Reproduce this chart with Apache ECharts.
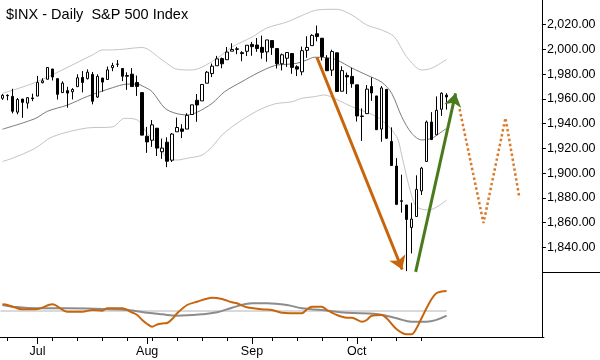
<!DOCTYPE html>
<html><head><meta charset="utf-8">
<script src="https://cdn.jsdelivr.net/npm/echarts@6/dist/echarts.min.js"></script>
<style>html,body{margin:0;padding:0;background:#fff;}#c{width:600px;height:360px;}</style>
</head><body><div id="c"></div>
<script>
// ---- categories (trading days) ----
const junDays=[20,23,24,25,26,27,30];
const julDays=[1,2,3,7,8,9,10,11,14,15,16,17,18,21,22,23,24,25,28,29,30,31];
const augDays=[1,4,5,6,7,8,11,12,13,14,15,18,19,20,21,22,25,26,27,28,29];
const sepDays=[2,3,4,5,8,9,10,11,12,15,16,17,18,19,22,23,24,25,26,29,30];
const octDays=[1,2,3,6,7,8,9,10,13,14,15,16,17,20,21,22,23,24,27];
const futureDays=['Oct 28','Oct 29','Oct 30','Oct 31','Nov 3','Nov 4','Nov 5','Nov 6','Nov 7','Nov 10','Nov 11','Nov 12','Nov 13','Nov 14','Nov 17','Nov 18','Nov 19','Nov 20','Nov 21'];

// ---- OHLC ----
const opens=[1960.5,1962.9,1962.0,1949.3,1959.9,1956.6,1960.8,
1962.3,1973.1,1975.9,1984.2,1976.4,1965.1,1966.7,1965.8,1969.9,1977.4,1976.4,1979.8,1961.5,1976.9,1975.7,1985.3,1988.1,1984.6,1978.3,1980.0,1973.2,1965.1,
1929.8,1926.6,1936.3,1917.3,1925.0,1910.4,1933.4,1935.7,1935.6,1947.4,1958.9,1958.4,1972.7,1980.5,1986.8,1992.6,1991.7,1998.6,2000.5,1997.4,1998.5,
2004.1,2003.6,2001.7,1998.0,2007.2,2000.7,1988.4,1992.9,1996.7,1986.0,1981.9,1999.3,2003.1,2012.7,2009.1,1992.8,1983.3,1997.3,1966.2,1979.0,1978.2,
1971.4,1945.8,1948.1,1970.0,1962.4,1935.6,1967.7,1925.6,1905.7,1877.1,1874.2,1856.0,1864.9,1885.6,1909.4,1941.3,1931.0,1951.6,1963.0];
const highs=[1963.9,1963.7,1968.2,1960.8,1959.9,1961.5,1964.2,
1978.6,1976.7,1985.6,1984.2,1976.4,1974.2,1969.8,1968.7,1979.9,1982.5,1983.9,1981.8,1979.9,1976.9,1986.2,1989.2,1991.4,1984.6,1981.5,1984.9,1978.9,1965.1,
1937.4,1942.9,1936.3,1927.9,1928.9,1932.4,1944.9,1939.5,1948.4,1955.2,1964.0,1972.0,1982.6,1988.6,1994.8,1993.5,2002.0,2005.0,2002.1,1998.6,2003.4,
2006.1,2009.3,2011.2,2007.7,2007.2,2001.0,1996.7,1997.7,1996.7,1987.2,2002.3,2010.7,2012.3,2019.3,2009.1,1995.4,1999.8,1997.3,1986.4,1981.3,1985.2,
1971.4,1952.3,1971.2,1977.4,1962.4,1970.4,1967.7,1937.0,1912.1,1898.7,1874.2,1876.0,1898.2,1905.0,1942.5,1949.3,1962.0,1965.3,1964.6];
const lows=[1959.2,1958.9,1948.3,1947.5,1944.7,1952.2,1958.2,
1962.3,1972.6,1975.9,1974.9,1959.5,1965.1,1952.9,1959.6,1969.9,1965.3,1975.7,1955.6,1960.8,1965.8,1975.7,1982.4,1985.8,1974.4,1967.3,1969.9,1962.4,1930.7,
1916.4,1921.2,1913.8,1911.5,1904.8,1909.0,1933.4,1928.3,1935.6,1947.4,1941.5,1958.4,1972.7,1977.7,1986.8,1984.8,1991.7,1998.6,1996.2,1990.5,1994.7,
1994.9,1998.1,1992.5,1990.1,1995.6,1984.6,1983.0,1985.9,1980.3,1978.5,1979.1,1993.3,2003.1,2006.6,1991.0,1982.8,1978.6,1966.0,1966.2,1964.0,1969.0,
1941.7,1926.0,1948.1,1958.4,1934.9,1925.3,1927.6,1906.1,1874.1,1868.0,1820.7,1835.0,1864.9,1882.3,1909.4,1926.8,1931.0,1946.3,1951.4];
const closes=[1962.9,1962.6,1950.0,1959.5,1957.2,1961.0,1960.2,
1973.3,1974.6,1985.4,1977.7,1963.7,1972.8,1964.7,1967.6,1977.1,1973.3,1981.6,1958.1,1978.2,1973.6,1983.5,1987.0,1988.0,1978.3,1978.9,1970.0,1970.1,1930.7,
1925.2,1939.0,1920.2,1920.2,1909.6,1931.6,1936.9,1933.8,1946.7,1955.2,1955.1,1971.7,1981.6,1986.5,1992.4,1988.4,1997.9,2000.0,2000.1,1996.7,2003.4,
2002.3,2000.7,1997.7,2007.7,2001.5,1988.4,1995.7,1997.5,1985.5,1984.1,1999.0,2001.6,2011.4,2010.4,1994.3,1982.8,1998.3,1966.0,1982.9,1977.8,1972.3,
1946.2,1946.2,1967.9,1964.8,1935.1,1968.9,1928.2,1906.1,1874.7,1877.7,1862.5,1862.8,1886.8,1904.0,1941.3,1927.1,1950.8,1964.6,1961.6];

// ---- bands: [bar index, price] ----
const upperBand=[[0,1964.5],[7,1974],[18,1995.5],[20,1999.6],[22,1999.6],[28,2001.6],[32,1991.5],[35,1984],[38,1983.4],[40,1985.8],[43,1992.8],[46,2002],[50,2010],[53,2017.4],[57,2022.2],[61,2029.2],[63,2031.9],[67,2032.5],[70,2027.9],[73,2019.8],[76,2015.7],[78.5,2010.3],[81,1994.1],[84,1983.4],[86,1984.8],[89,1992]];
const midBand=[[0,1935.5],[6.5,1944],[9,1950],[13,1955],[17,1962],[22,1969],[25,1972],[27,1972],[28.5,1969.5],[30,1965.8],[32.5,1952.6],[34.5,1948.6],[37,1947],[39,1949.2],[42,1956.4],[44.5,1965.8],[48,1974],[51,1980.7],[54.5,1986.9],[57,1988],[59,1988.8],[61,1991.5],[62.5,1993.7],[65,1993.3],[67,1991.5],[70,1985],[73,1979.3],[76,1973.5],[78,1964.5],[80,1945.6],[82,1932.2],[84,1926.8],[86,1928.1],[87.5,1932],[89,1936.2]];
const lowerBand=[[0,1909.4],[2,1912],[6.5,1920],[10,1929.4],[17,1936.5],[22,1937.3],[24.5,1944.3],[27,1943],[29,1932.2],[31,1924.1],[33,1912],[35,1910.6],[37,1912],[40,1914.6],[42,1921.3],[44,1930.8],[47,1940.3],[51,1950.2],[54.5,1955.9],[58,1957.7],[60,1960.5],[62.5,1961.8],[64.5,1963.2],[67,1959.5],[70,1953.7],[73.5,1948.4],[76,1942.9],[79,1929.4],[80,1914.6],[81.5,1889],[83,1872.8],[85.5,1870.2],[89,1878.2]];

// ---- annotations [bar index, price] ----
const orangeArrow=[[63,1993.7],[80.1,1822]];
const greenArrow=[[82.8,1820.05],[90.8,1964.5]];
const projection=[[91.6,1951.8],[96.4,1859.6],[100.8,1944.6],[103.6,1879.9]];

// ---- oscillators (lower panel) [bar index, value] ----
const oscOrange=[[0,6.7],[1,6],[4,1.7],[7,2],[10,6.7],[13,-0.7],[16,-0.7],[18,1],[20,0.3],[21,2.7],[24,2.7],[26,-1.5],[27,-4],[28,-9],[29,-13],[30,-15.7],[31,-13.5],[32,-12.5],[33,-12],[34,-8],[35,-2.3],[37,6],[39,9.3],[42,13.3],[44,12],[46,8.7],[47,7.7],[49,3.7],[52,1.7],[54,1],[56,-1.7],[60,-2.3],[61,1.7],[62,4.3],[64,4.3],[65,1],[67,-4],[69,-6.7],[70,-6.7],[72,-10.7],[73,-9],[74,-4.7],[76,-4],[77,-7.3],[79,-18.3],[81,-23.3],[82,-23.3],[83,-17],[84,-7],[85,3],[86,12],[87,18],[88,19.5],[89,20]];
const oscGray=[[0,6],[2,4.3],[7,2.7],[13,2.7],[20,2],[25,1],[29,-1.7],[32,-3.3],[35,-4.7],[40,-3.3],[43,-1.3],[46,3.3],[50,7.7],[53,7.7],[57,6],[60,2.7],[64,1],[69,-1.7],[75,-3],[79,-7.3],[82,-10.7],[85,-10.7],[89,-4.7]];
const oscZero=[[-0.4,0],[89,0]];

// ---- ticks ----
const priceMin=1820, priceMax=2040, priceStep=20;
const monthTickIdx=[7,29,50,71];
const monthNames=['Jul','Aug','Sep','Oct'];
const weekTickIdx=[1,10,15,20,25,30,35,40,45,54,59,64,69,74,79,84];

const categories=[].concat(
  junDays.map(d=>'Jun '+d), julDays.map(d=>'Jul '+d), augDays.map(d=>'Aug '+d),
  sepDays.map(d=>'Sep '+d), octDays.map(d=>'Oct '+d), futureDays);
const N=categories.length;
const candleData=opens.map((o,i)=>[o,closes[i],lows[i],highs[i]]);

const FONT='Liberation Sans, Arial, sans-serif';
const ORANGE='#c8650c', GREEN='#4b7a1d';
const gridLeft=-1.5, gridWidth=545.4;
function arrowLine(pts,color){
  return [
    {coord:pts[0],symbol:'none',lineStyle:{color:color,width:3,type:'solid'},itemStyle:{color:color}},
    {coord:pts[1],symbol:'arrow',symbolSize:13,itemStyle:{color:color}}
  ];
}
const chart=echarts.init(document.getElementById('c'),null,{renderer:'canvas'});
chart.setOption({
  animation:false,
  backgroundColor:'#fff',
  title:{text:'$INX - Daily  S&P 500 Index',left:1,top:2,textStyle:{fontFamily:FONT,fontSize:14.5,fontWeight:'normal',color:'#000'}},
  grid:[
    {left:gridLeft,width:gridWidth,top:0,height:272},
    {left:gridLeft,width:gridWidth,top:272,height:65}
  ],
  xAxis:[
    {type:'category',gridIndex:0,data:categories,show:false,boundaryGap:true},
    {type:'value',gridIndex:0,min:-0.5,max:N-0.5,show:false},
    {type:'category',gridIndex:1,data:categories,position:'bottom',boundaryGap:true,
      axisLine:{show:true,onZero:false,lineStyle:{color:'#000',width:1}},
      axisTick:{show:true,alignWithLabel:true,length:4,interval:(i)=>weekTickIdx.includes(i),lineStyle:{color:'#000'}},
      axisLabel:{show:false},splitLine:{show:false}},
    {type:'category',gridIndex:1,data:categories,position:'bottom',boundaryGap:true,
      axisLine:{show:false,onZero:false},
      axisTick:{show:true,alignWithLabel:true,length:7,interval:(i)=>monthTickIdx.includes(i),lineStyle:{color:'#000'}},
      axisLabel:{show:true,interval:(i)=>monthTickIdx.includes(i),margin:8,
        formatter:(v,i)=>{const k=monthTickIdx.indexOf(i);return k>=0?monthNames[k]:'';},
        color:'#000',fontFamily:FONT,fontSize:12.5},splitLine:{show:false}},
    {type:'value',gridIndex:1,min:-0.5,max:N-0.5,show:false}
  ],
  yAxis:[
    {type:'value',gridIndex:0,position:'right',offset:-2,min:priceMin,max:priceMax,interval:priceStep,scale:true,
      axisLine:{show:true,onZero:false,lineStyle:{color:'#000',width:1}},
      axisTick:{show:true,length:4,lineStyle:{color:'#000'}},
      axisLabel:{show:true,margin:5,showMinLabel:false,showMaxLabel:false,color:'#000',fontFamily:FONT,fontSize:12.5,
        formatter:(v)=>v.toLocaleString('en-US',{minimumFractionDigits:2,maximumFractionDigits:2})},
      splitLine:{show:false}},
    {type:'value',gridIndex:1,position:'right',offset:-2,min:-26,max:39,
      axisLine:{show:true,onZero:false,lineStyle:{color:'#000',width:1}},
      axisTick:{show:false},axisLabel:{show:false},splitLine:{show:false}}
  ],
  graphic:[{type:'line',shape:{x1:542,y1:272.5,x2:600,y2:272.5},style:{stroke:'#000',lineWidth:1},z:10}],
  series:[
    {type:'line',name:'upper',xAxisIndex:1,yAxisIndex:0,data:upperBand,smooth:0.3,symbol:'none',z:1,
      lineStyle:{color:'#c4c4c4',width:1},silent:true},
    {type:'line',name:'lower',xAxisIndex:1,yAxisIndex:0,data:lowerBand,smooth:0.3,symbol:'none',z:1,
      lineStyle:{color:'#c4c4c4',width:1},silent:true},
    {type:'line',name:'mid',xAxisIndex:1,yAxisIndex:0,data:midBand,smooth:0.3,symbol:'none',z:1,
      lineStyle:{color:'#7a7a7a',width:1},silent:true},
    {type:'candlestick',name:'INX',xAxisIndex:0,yAxisIndex:0,data:candleData,barWidth:3,z:3,
      itemStyle:{color:'#fff',color0:'#000',borderColor:'#000',borderColor0:'#000',borderWidth:1},silent:true},
    {type:'line',name:'projection',xAxisIndex:1,yAxisIndex:0,data:projection,symbol:'none',z:4,clip:false,
      color:ORANGE,
      lineStyle:{color:'#d9792b',width:2.5,type:[2.5,2.5]},silent:true,
      markLine:{silent:true,symbol:['none','arrow'],symbolSize:13,label:{show:false},precision:4,
        emphasis:{disabled:true},
        data:[arrowLine(orangeArrow,ORANGE),arrowLine(greenArrow,GREEN)]}},
    {type:'line',name:'zero',xAxisIndex:4,yAxisIndex:1,data:oscZero,symbol:'none',z:1,
      lineStyle:{color:'#b4b4b4',width:1},silent:true},
    {type:'line',name:'oscGray',xAxisIndex:4,yAxisIndex:1,data:oscGray,smooth:0.4,symbol:'none',z:2,
      lineStyle:{color:'#8c8c8c',width:2},silent:true},
    {type:'line',name:'oscOrange',xAxisIndex:4,yAxisIndex:1,data:oscOrange,smooth:0.3,symbol:'none',z:3,
      lineStyle:{color:'#c8650c',width:2},silent:true}
  ]
});
</script></body></html>
